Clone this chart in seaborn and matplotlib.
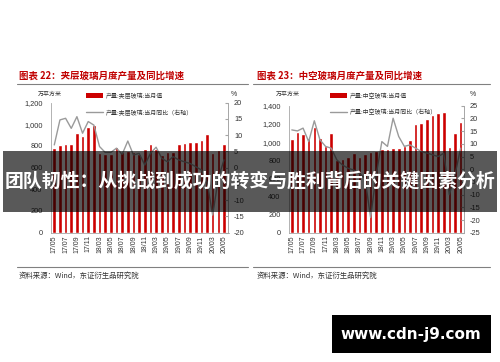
import numpy as np
import pandas as pd
import matplotlib
matplotlib.use("Agg")
import matplotlib.pyplot as plt
from matplotlib.patches import Rectangle
from matplotlib.lines import Line2D
from matplotlib.ticker import FuncFormatter
import seaborn as sns

sns.set_style("white")
plt.rcParams['font.family'] = ['Liberation Sans', 'Noto Sans CJK SC', 'DejaVu Sans']
plt.rcParams['axes.unicode_minus'] = False

months = ["17/05", "17/06", "17/07", "17/08", "17/09", "17/10", "17/11", "17/12",
          "18/03", "18/04", "18/05", "18/06", "18/07", "18/08", "18/09", "18/10", "18/11", "18/12",
          "19/03", "19/04", "19/05", "19/06", "19/07", "19/08", "19/09", "19/10", "19/11", "19/12",
          "20/03", "20/04", "20/05"]

laminated_output = [778, 809, 815, 815, 923, 895, 978, 994, 732, 726, 726, 788, 741, 753, 741, 726,
                    769, 815, 769, 716, 747, 747, 815, 830, 839, 839, 852, 911, 732, 763, 821]
laminated_yoy = [7.0, 14.7, 15.2, 12.1, 15.7, 10.6, 14.2, 13.1, 6.5, 4.7, 4.7, 6.0, 4.1, 8.2, 3.9, 4.4,
                 0.8, 4.4, 6.3, 2.9, 1.8, 3.4, 2.4, 1.8, 1.3, 0.3, -0.7, -4.3, -14.6, -3.3, 2.4]

hollow_output = [1036, 1110, 1085, 1047, 1168, 1047, 957, 1102, 801, 809, 838, 875, 838, 864, 886, 900,
                 922, 922, 937, 930, 959, 1020, 1195, 1214, 1256, 1293, 1319, 1333, 950, 1095, 1223]
hollow_yoy = [15.5, 15.1, 16.2, 10.9, 19.1, 11.6, 9.0, 8.3, 3.7, 1.7, 0.4, -0.3, -1.6, -3.5, -19.0, -2.2,
              10.9, 9.0, 20.1, 12.9, 9.0, 9.6, 8.3, 7.0, 6.4, 5.7, 5.0, 6.3, -10.0, -2.2, 8.3]

titles = ["图表 22：夹层玻璃月度产量及同比增速", "图表 23：中空玻璃月度产量及同比增速"]
legend_bar = ["产量:夹层玻璃:当月值", "产量:中空玻璃:当月值"]
legend_line = ["产量:夹层玻璃:当月同比（右轴）", "产量:中空玻璃:当月同比（右轴）"]
source = "资料来源：Wind，东证衍生品研究院"
unit_left = "万平方米"
unit_right = "%"
banner_text = "团队韧性：从挑战到成功的转变与胜利背后的关键因素分析"
watermark = "www.cdn-j9.com"

W, H = 500, 362
fig = plt.figure(figsize=(W / 100, H / 100), dpi=100)


def fx(x):
    return x / W


def fy(y):
    return 1 - y / H


RED = "#cc0000"
GREY_LINE = "#9a9a9a"
SPINE = "#a6a6a6"
TXT = "#333333"

configs = [
    dict(box=(51, 102.7, 228.5, 232.6), xlim=(-0.58, 30.8), ylim=(0, 1200), yt=np.arange(0, 1201, 200),
         y2lim=(-20, 20), y2t=np.arange(-20, 21, 5), bars=laminated_output, yoy=laminated_yoy,
         title_x=19, leg_x=86, unit_x=38, pct_x=231, src_x=19, rule=(17, 248)),
    dict(box=(289, 105.8, 464, 232.7), xlim=(-0.5, 30.6), ylim=(0, 1400), yt=np.arange(0, 1401, 200),
         y2lim=(-25, 25), y2t=np.arange(-25, 26, 5), bars=hollow_output, yoy=hollow_yoy,
         title_x=257, leg_x=330, unit_x=276, pct_x=470, src_x=257, rule=(253, 490)),
]

fmt = FuncFormatter(lambda v, p: f"{int(v):,}")

for i, c in enumerate(configs):
    x0, y0, x1, y1 = c["box"]
    ax = fig.add_axes([fx(x0), fy(y1), (x1 - x0) / W, (y1 - y0) / H])
    df = pd.DataFrame({"month": months, "value": c["bars"]})
    sns.barplot(data=df, x="month", y="value", color=RED, saturation=1, width=0.64, ax=ax, zorder=2)
    ax.set_xlim(*c["xlim"])
    ax.set_ylim(*c["ylim"])
    ax.set_yticks(c["yt"])
    ax.yaxis.set_major_formatter(fmt)
    ax.set_xticks(range(0, len(months), 2))
    ax.set_xticklabels(months[::2], rotation=90, fontsize=5)
    ax.set_xlabel("")
    ax.set_ylabel("")
    ax.tick_params(axis="y", labelsize=5.3, length=0, pad=6, colors=TXT)
    ax.tick_params(axis="x", length=0, pad=2, colors=TXT)
    ax.spines["top"].set_visible(False)
    for s in ["left", "right", "bottom"]:
        ax.spines[s].set_color(SPINE)
        ax.spines[s].set_linewidth(0.6)

    ax2 = ax.twinx()
    sns.lineplot(x=np.arange(len(months)), y=c["yoy"], ax=ax2, color=GREY_LINE, lw=1.0, zorder=3)
    ax2.set_ylim(*c["y2lim"])
    ax2.set_yticks(c["y2t"])
    ax2.set_xlim(*c["xlim"])
    ax2.tick_params(axis="y", labelsize=5.3, length=2.5, direction="in", pad=4, colors=TXT)
    ax2.tick_params(axis="y", color=SPINE)
    for s in ["top", "left", "bottom"]:
        ax2.spines[s].set_visible(False)
    ax2.spines["right"].set_color(SPINE)
    ax2.spines["right"].set_linewidth(0.6)

    # title and rule
    fig.text(fx(c["title_x"]), fy(75.5), titles[i], color="#c00000", fontsize=6.8,
             fontweight="bold", ha="left", va="center", family=["Noto Sans CJK SC"])
    fig.add_artist(Line2D([fx(c["rule"][0]), fx(c["rule"][1])], [fy(84), fy(84)],
                          color="#808080", lw=0.8))
    # units
    fig.text(fx(c["unit_x"]), fy(94), unit_left, fontsize=4.3, color=TXT, ha="left", va="center",
             family=["Noto Sans CJK SC"])
    fig.text(fx(c["pct_x"]), fy(94), unit_right, fontsize=5, color=TXT, ha="left", va="center")
    # legend
    lx = c["leg_x"]
    fig.add_artist(Rectangle((fx(lx), fy(98)), 17 / W, 4.8 / H, color=RED, lw=0))
    fig.text(fx(lx + 20), fy(96), legend_bar[i], fontsize=4.3, color=TXT, ha="left", va="center",
             family=["Noto Sans CJK SC"])
    fig.add_artist(Line2D([fx(lx), fx(lx + 17)], [fy(112.5), fy(112.5)], color=GREY_LINE, lw=1.0))
    fig.text(fx(lx + 20), fy(112.5), legend_line[i], fontsize=4.3, color=TXT, ha="left", va="center",
             family=["Noto Sans CJK SC"])
    # bottom rule and source
    fig.add_artist(Line2D([fx(c["rule"][0]), fx(c["rule"][1])], [fy(266.5), fy(266.5)],
                          color="#808080", lw=0.8))
    fig.text(fx(c["src_x"]), fy(275.5), source, fontsize=5.3, color=TXT, ha="left", va="center",
             family=["Noto Sans CJK SC"])

# banner overlay
fig.add_artist(Rectangle((fx(3), fy(211.5)), 494 / W, 61 / H, color="black", alpha=0.65, lw=0, zorder=10))
fig.text(0.5, fy(181), banner_text, color="white", fontsize=13.6, fontweight="bold",
         ha="center", va="center", family=["Noto Sans CJK SC"], zorder=11)

# watermark
fig.add_artist(Rectangle((fx(331.5), fy(352.7)), 159 / W, 37.7 / H, color="black", lw=0, zorder=10))
fig.text(fx(411), fy(334), watermark, color="white", fontsize=11, fontweight="bold",
         ha="center", va="center", family=["DejaVu Sans"], zorder=11)

fig.savefig("out.png", dpi=100)
